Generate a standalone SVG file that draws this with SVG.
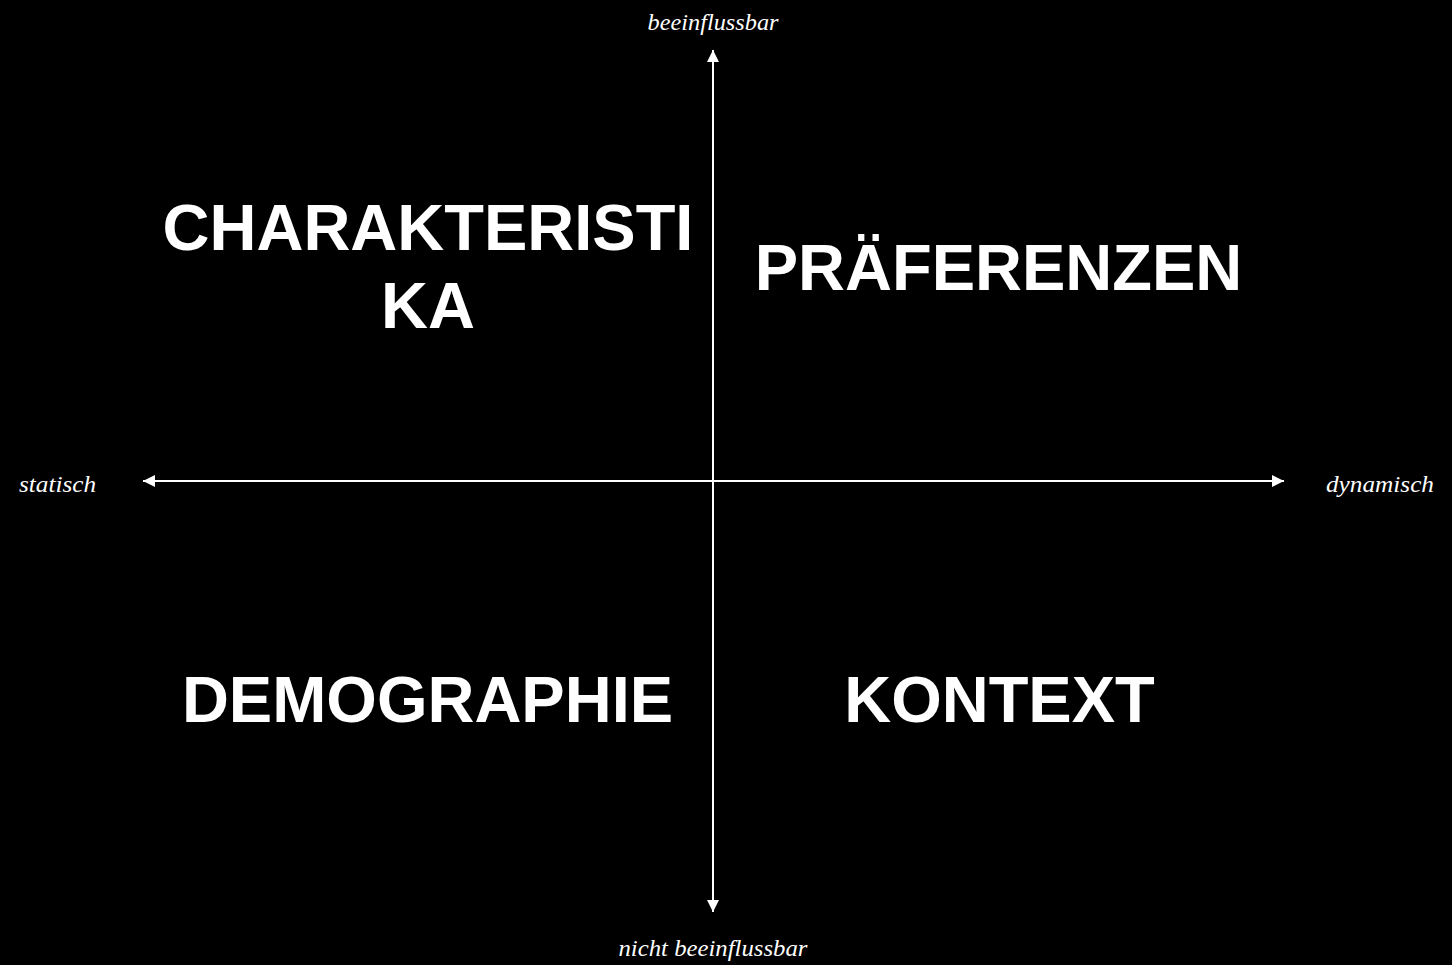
<svg xmlns="http://www.w3.org/2000/svg" width="1452" height="965" viewBox="0 0 1452 965">
<style>
.big{font-family:"Liberation Sans",Arial,sans-serif;font-weight:bold;font-size:65px;fill:#fff;text-anchor:middle}
.lbl{font-family:"Liberation Serif","DejaVu Serif",serif;font-style:italic;font-size:24px;fill:#fff}
.axis{stroke:#fff;stroke-width:2;fill:none}
</style>
<defs>
<marker id="ah" viewBox="0 0 10 10" refX="10" refY="5" markerWidth="6" markerHeight="6" orient="auto-start-reverse" markerUnits="strokeWidth">
<path d="M0,0 L10,5 L0,10 z" fill="#fff"/>
</marker>
</defs>
<rect width="1452" height="965" fill="#000"/>
<g id="connectors">
<line class="axis" x1="713" y1="912" x2="713" y2="50" marker-start="url(#ah)" marker-end="url(#ah)"/>
<line class="axis" x1="143" y1="481" x2="1284" y2="481" marker-start="url(#ah)" marker-end="url(#ah)"/>
</g>
<g id="label-top"><text class="lbl" x="713" y="30" text-anchor="middle" textLength="131" lengthAdjust="spacingAndGlyphs">beeinflussbar</text></g>
<g id="label-bottom"><text class="lbl" x="713" y="956" text-anchor="middle" textLength="189" lengthAdjust="spacingAndGlyphs">nicht beeinflussbar</text></g>
<g id="label-left"><text class="lbl" x="19" y="492" textLength="77" lengthAdjust="spacingAndGlyphs">statisch</text></g>
<g id="label-right"><text class="lbl" x="1326" y="492" textLength="108" lengthAdjust="spacingAndGlyphs">dynamisch</text></g>
<g id="q-charakteristika">
<text class="big" x="428" y="250">CHARAKTERISTI</text>
<text class="big" x="428" y="328">KA</text>
</g>
<g id="q-praeferenzen"><text class="big" x="998.5" y="290">PRÄFERENZEN</text></g>
<g id="q-demographie"><text class="big" x="427.5" y="722">DEMOGRAPHIE</text></g>
<g id="q-kontext"><text class="big" x="999.5" y="722">KONTEXT</text></g>
</svg>
